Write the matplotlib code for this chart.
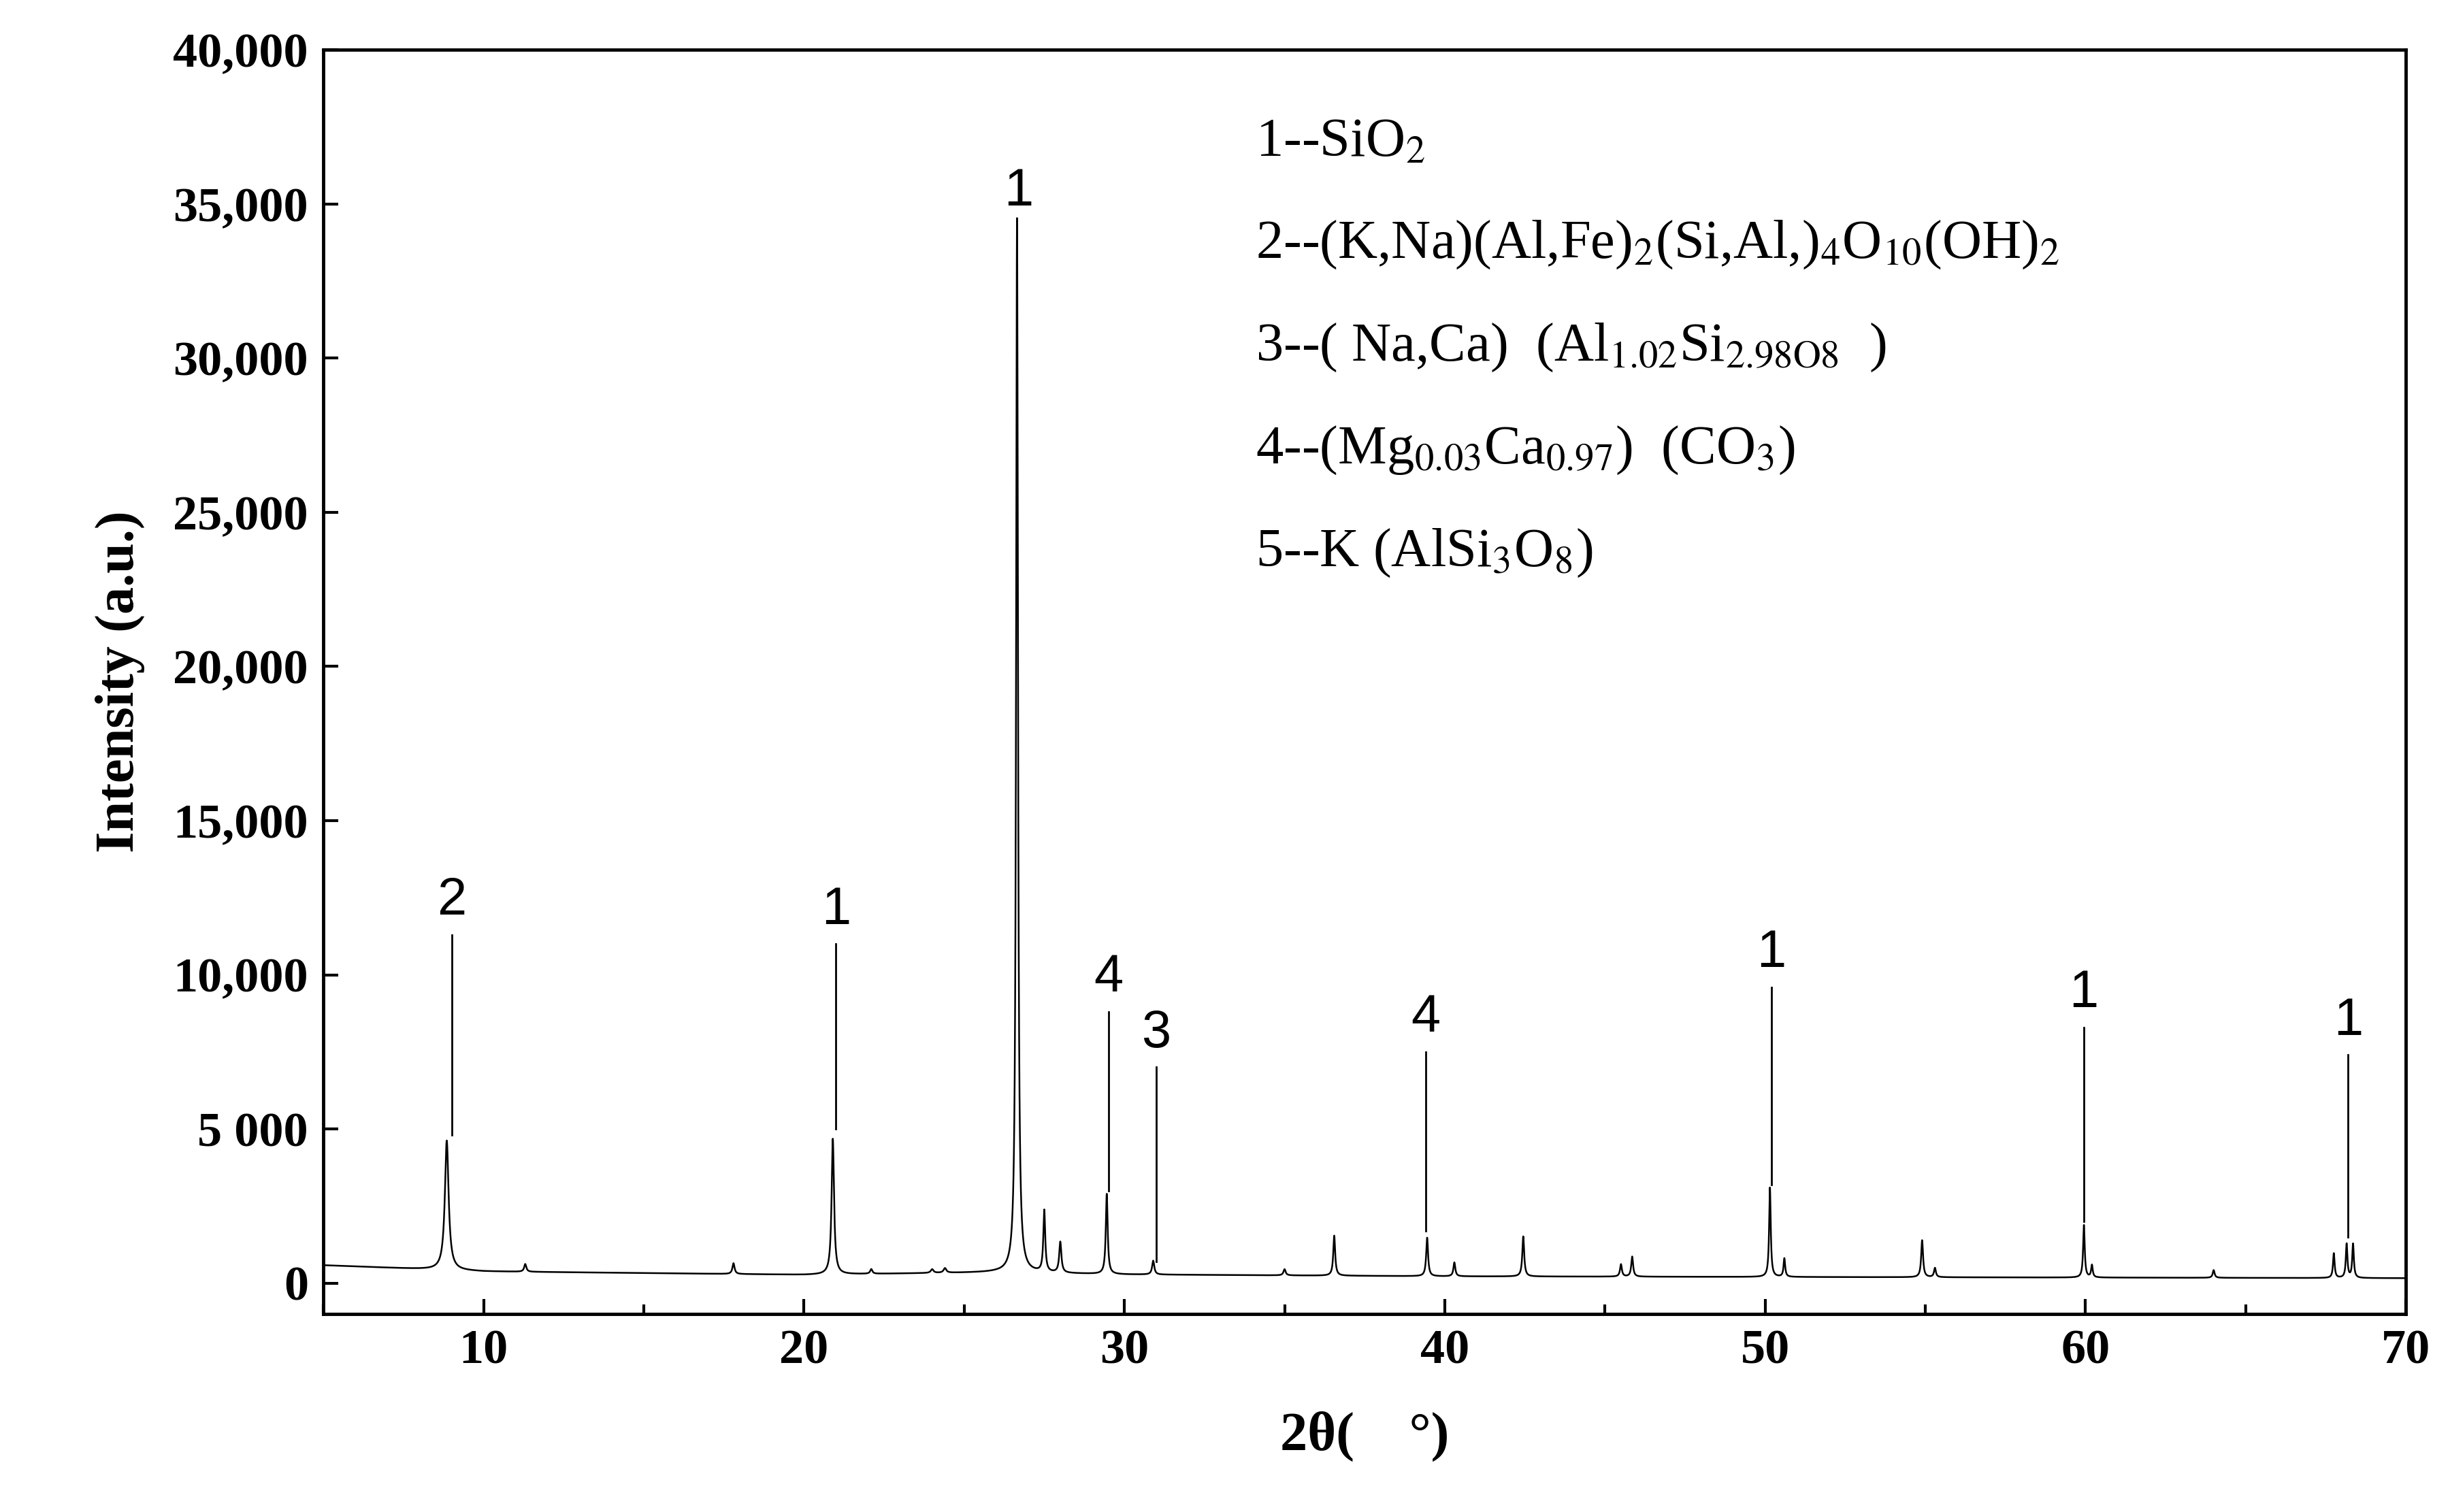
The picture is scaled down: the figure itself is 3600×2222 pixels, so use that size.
import numpy as np
import matplotlib.pyplot as plt
from matplotlib.ticker import MultipleLocator, FuncFormatter

plt.rcParams['font.family'] = ['Liberation Serif', 'DejaVu Serif']
plt.rcParams['mathtext.fontset'] = 'stix'

# peak positions (2theta), heights (counts above baseline), widths (deg)
peak_pos = [8.85, 11.3, 17.8, 20.9, 22.1, 24.0, 24.4, 26.65, 27.5, 28.0, 29.45, 30.9,
            35.0, 36.55, 39.45, 40.3, 42.45, 45.5, 45.85, 50.15, 50.6, 54.9, 55.3,
            59.95, 60.2, 64.0, 67.75, 68.15, 68.35]
peak_h = [4200, 250, 350, 4400, 150, 120, 150, 34200, 2000, 1000, 2600, 450,
          200, 1300, 1250, 450, 1300, 400, 650, 2900, 600, 1200, 300,
          1700, 400, 250, 800, 1100, 1100]
peak_w = [0.07, 0.04, 0.04, 0.045, 0.04, 0.05, 0.05, 0.035, 0.035, 0.04, 0.035, 0.04,
          0.04, 0.035, 0.035, 0.035, 0.035, 0.035, 0.035, 0.03, 0.03, 0.035, 0.035,
          0.03, 0.03, 0.035, 0.03, 0.03, 0.03]
baseline_x = [5, 10, 20, 26, 30, 40, 50, 60, 70]
baseline_y = [580, 380, 270, 350, 280, 220, 200, 180, 160]

# annotation: x, line bottom, line top, label
ann_x = [9.0, 21.0, 29.5, 31.0, 39.4, 50.2, 59.95, 68.2]
ann_lo = [4800, 5000, 3000, 700, 1700, 3200, 2000, 1500]
ann_hi = [11300, 11000, 8800, 7000, 7500, 9600, 8300, 7400]
ann_lab = ['2', '1', '4', '3', '4', '1', '1', '1']

legend_lines = [r'1--SiO$_{2}$',
                r'2--(K,Na)(Al,Fe)$_{2}$(Si,Al,)$_{4}$O$_{10}$(OH)$_{2}$',
                r'3--( Na,Ca)  (Al$_{1.02}$Si$_{\mathrm{2.98O8}}$  )',
                r'4--(Mg$_{0.03}$Ca$_{0.97}$)  (CO$_{3}$)',
                r'5--K (AlSi$_{3}$O$_{8}$)']

x = np.linspace(5, 70, 26001)
y = np.interp(x, baseline_x, baseline_y)
for p, h, w in zip(peak_pos, peak_h, peak_w):
    y = y + h / (1 + ((x - p) / w) ** 2)

fig = plt.figure(figsize=(36, 22.22), dpi=100)
ax = fig.add_axes([0.132, 0.131, 0.850, 0.836])
ax.plot(x, y, color='black', lw=1.8)
ax.set_xlim(5, 70)
ax.set_ylim(-1000, 40000)

for xa, lo, hi, lab in zip(ann_x, ann_lo, ann_hi, ann_lab):
    ax.plot([xa, xa], [lo, hi], color='black', lw=2)
    ax.text(xa, hi + 300, lab, ha='center', va='bottom', fontsize=56, family='Liberation Sans')
ax.text(26.7, 34600, '1', ha='center', va='bottom', fontsize=56, family='Liberation Sans')

for i, t in enumerate(legend_lines):
    ax.text(34.1, 37000 - i * 3330, t, ha='left', va='center', fontsize=58)

ax.xaxis.set_major_locator(MultipleLocator(10))
ax.xaxis.set_minor_locator(MultipleLocator(5))
ax.yaxis.set_major_locator(MultipleLocator(5000))
ax.yaxis.set_major_formatter(FuncFormatter(
    lambda v, p: '5 000' if v == 5000 else f'{int(v):,}'))
ax.tick_params(which='both', direction='in', width=3, labelsize=52, pad=16)
ax.tick_params(which='major', length=16)
ax.tick_params(which='minor', length=10)
for lab in ax.get_xticklabels() + ax.get_yticklabels():
    lab.set_fontweight('bold')
for s in ax.spines.values():
    s.set_linewidth(3.5)
ax.set_xlabel('2θ(    °)', fontsize=58, fontweight='bold', labelpad=40)
ax.set_ylabel('Intensity (a.u.)', fontsize=58, fontweight='bold', labelpad=30)

fig.savefig('out.png', dpi=100)
